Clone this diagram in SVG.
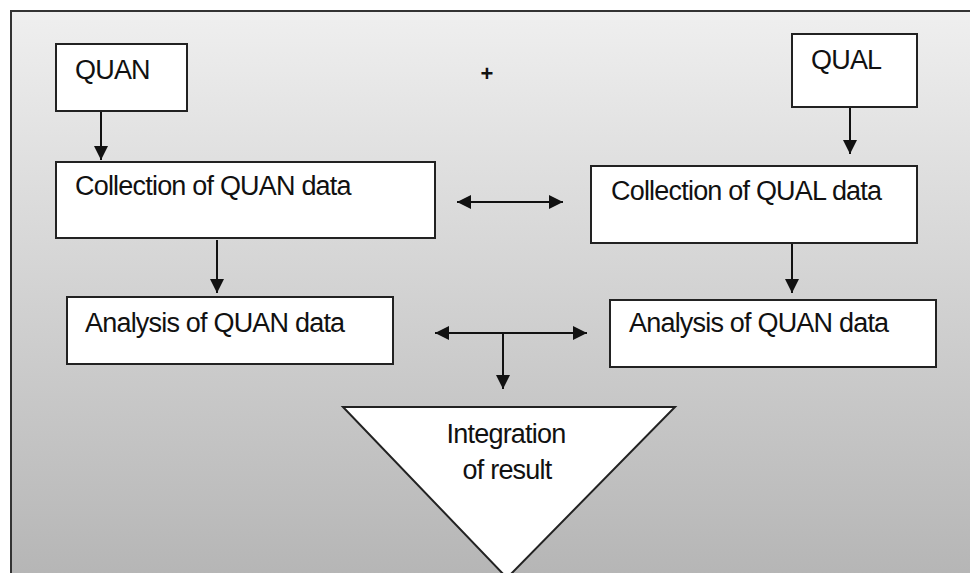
<svg xmlns="http://www.w3.org/2000/svg" width="970" height="573" viewBox="0 0 970 573">
<defs>
<linearGradient id="bg" x1="0" y1="0" x2="0" y2="1">
<stop offset="0" stop-color="#efefef"/>
<stop offset="1" stop-color="#b4b4b4"/>
</linearGradient>
<marker id="ah" viewBox="0 0 14 14" refX="14" refY="7" markerWidth="14" markerHeight="14" markerUnits="userSpaceOnUse" orient="auto-start-reverse">
<path d="M0,0 L14,7 L0,14 Z" fill="#111"/>
</marker>
<style>
.box{fill:#fff;stroke:#222;stroke-width:2}
.t{font-family:"Liberation Sans",Arial,sans-serif;font-size:27px;fill:#111;letter-spacing:-0.8px}
.c{fill:none;stroke:#111;stroke-width:2}
</style>
</defs>
<rect x="0" y="0" width="970" height="573" fill="#fff"/>
<rect x="11" y="11" width="970" height="580" fill="url(#bg)" stroke="#333" stroke-width="2"/>
<text class="t" x="487" y="81" text-anchor="middle" style="font-size:22px;font-weight:bold;letter-spacing:0">+</text>
<g id="quan"><rect class="box" x="56" y="44" width="131" height="67"/><text class="t" x="75" y="79">QUAN</text></g>
<g id="qual"><rect class="box" x="792" y="34" width="125" height="73"/><text class="t" x="811" y="69">QUAL</text></g>
<g id="collect-quan"><rect class="box" x="56" y="162" width="379" height="76"/><text class="t" x="75" y="195">Collection of QUAN data</text></g>
<g id="collect-qual"><rect class="box" x="591" y="166" width="326" height="77"/><text class="t" x="611" y="200">Collection of QUAL data</text></g>
<g id="analysis-quan"><rect class="box" x="67" y="297" width="326" height="67"/><text class="t" x="85" y="332">Analysis of QUAN data</text></g>
<g id="analysis-qual"><rect class="box" x="610" y="300" width="326" height="67"/><text class="t" x="629" y="332">Analysis of QUAN data</text></g>
<g id="integration"><polygon points="343,407 675,407 507,578" fill="#fff" stroke="#222" stroke-width="2"/>
<text class="t" x="506" y="443" text-anchor="middle">Integration</text>
<text class="t" x="507" y="479" text-anchor="middle">of result</text></g>
<g id="connectors">
<line class="c" x1="101" y1="112" x2="101" y2="160" marker-end="url(#ah)"/>
<line class="c" x1="850" y1="108" x2="850" y2="154" marker-end="url(#ah)"/>
<line class="c" x1="457" y1="202" x2="563" y2="202" marker-start="url(#ah)" marker-end="url(#ah)"/>
<line class="c" x1="217" y1="240" x2="217" y2="293" marker-end="url(#ah)"/>
<line class="c" x1="792" y1="244" x2="792" y2="293" marker-end="url(#ah)"/>
<line class="c" x1="435" y1="333" x2="587" y2="333" marker-start="url(#ah)" marker-end="url(#ah)"/>
<line class="c" x1="503" y1="333" x2="503" y2="389" marker-end="url(#ah)"/>
</g>
</svg>
